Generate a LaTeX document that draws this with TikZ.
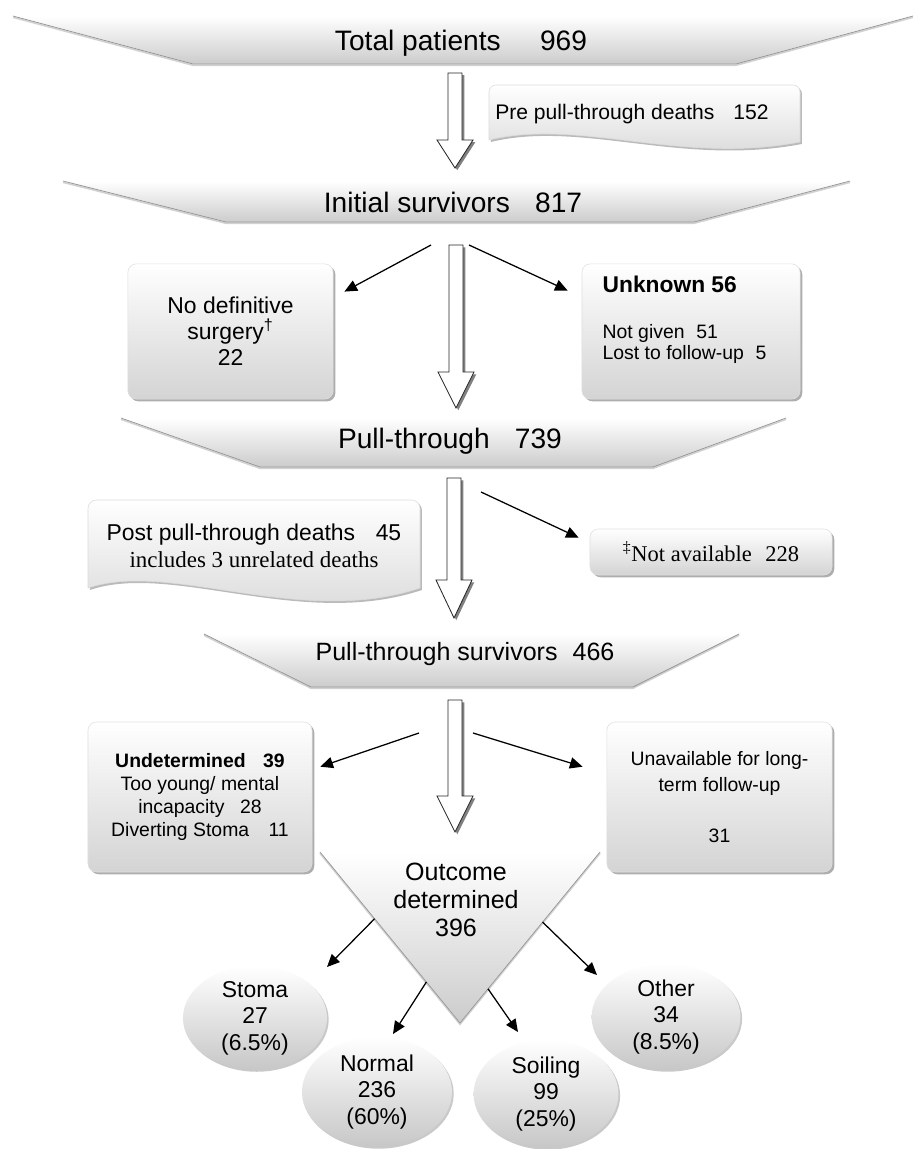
\documentclass[tikz,border=0pt]{standalone}
\usepackage{fontspec}
\setmainfont{Liberation Sans}
\newfontfamily\timesfont{Liberation Serif}
\usetikzlibrary{calc,arrows.meta,shadows,shapes.geometric}

\tikzset{
	banner/.style={top color=white,bottom color=black!20},
	bannertop/.style={draw=white,line width=1.2pt},
	bannerline/.style={draw=black!40,line width=0.5pt,preaction={draw=black!18,line width=1.2pt,transform canvas={yshift=-0.9pt}}},
	bannertext/.style={anchor=base,font=\fontsize{20}{24}\selectfont},
	infobox/.style={rounded corners=6pt,top color=white,bottom color=black!17,draw=black!12,line width=0.4pt,inner sep=0pt,align=center,drop shadow={shadow xshift=1.6pt,shadow yshift=-1.6pt,fill=black!45,opacity=0.7}},
	docbox/.style={top color=white,bottom color=black!16,draw=black!14,line width=0.4pt,drop shadow={shadow xshift=1.4pt,shadow yshift=-1.4pt,fill=black!45,opacity=0.6}},
	hollow/.style={fill=white,draw=black!85,line width=0.6pt,drop shadow={shadow xshift=1.6pt,shadow yshift=-1.6pt,fill=black!50,opacity=1}},
	thinarrow/.style={-{Triangle[length=9pt,width=8pt]},line width=0.9pt},
	bubble/.style={ellipse,inner sep=0pt,top color=white,bottom color=black!22,align=center,font=\fontsize{16.3}{18.8}\selectfont,drop shadow={shadow xshift=1.2pt,shadow yshift=-1.2pt,fill=black!35,opacity=0.6}}
}

% block arrow: top, tip, head length
\newcommand{\hollowarrow}[3]{%
	\draw[hollow] ($(#1)+(-7,0)$) -- ($(#1)+(7,0)$) -- ($(#2)+(7,-#3)$) -- ($(#2)+(18,-#3)$) -- (#2) -- ($(#2)+(-18,-#3)$) -- ($(#2)+(-7,-#3)$) -- cycle;}

\begin{document}
\begin{tikzpicture}[x=0.025cm,y=-0.025cm]
	\useasboundingbox (0,0) rectangle (914,1149);
	\fill[white] (0,0) rectangle (914,1149);

	%BANNERS
	\fill[banner] (13,16) -- (913,16) -- (736,64) -- (193,64) -- cycle;
	\draw[bannertop] (13,16) -- (913,16);
	\draw[bannerline] (13,16) -- (193,64) -- (736,64) -- (913,16);
	\fill[banner] (63,181) -- (850,181) -- (694,222) -- (226,222) -- cycle;
	\draw[bannertop] (63,181) -- (850,181);
	\draw[bannerline] (63,181) -- (226,222) -- (694,222) -- (850,181);
	\fill[banner] (121,418) -- (786,418) -- (653,467) -- (260,467) -- cycle;
	\draw[bannertop] (121,418) -- (786,418);
	\draw[bannerline] (121,418) -- (260,467) -- (653,467) -- (786,418);
	\fill[banner] (204,634) -- (739,634) -- (633,687) -- (311,687) -- cycle;
	\draw[bannertop] (204,634) -- (739,634);
	\draw[bannerline] (204,634) -- (311,687) -- (633,687) -- (739,634);
	%
	\node[bannertext] (total) at (461,51) {Total patients\hspace{1.4em}969};
	\node[bannertext] (initial) at (453,212) {Initial survivors\hspace{0.9em}817};
	\node[bannertext] (pull) at (450,448) {Pull-through\hspace{0.9em}739};
	\node[bannertext,font=\fontsize{17.8}{22}\selectfont] (ptsurv) at (465,660) {Pull-through survivors\hspace{0.6em}466};

	%DEATH BOXES
	\path[docbox] (489,140) [rounded corners=5pt] -- (489,85) -- (800,85) [sharp corners] -- (800,142) .. controls (680,165) and (580,118) .. (489,140) -- cycle;
	\node[font=\fontsize{15}{18}\selectfont] (predeaths) at (632,114) {Pre pull-through deaths\hspace{0.9em}152};
	\path[docbox] (88,588) [rounded corners=6pt] -- (88,500) -- (420,500) [sharp corners] -- (420,588) .. controls (300,628) and (170,560) .. (88,588) -- cycle;
	\node[align=center,font=\fontsize{16.3}{19.2}\selectfont] (postdeaths) at (254,546) {Post pull-through deaths\hspace{0.9em}45\\{\timesfont includes 3 unrelated deaths}};

	%SIDE BOXES
	\node[infobox,minimum width=5.13cm,minimum height=3.38cm,font=\fontsize{16.3}{18.5}\selectfont] (nodef) at (230.5,331.5) {No definitive\\surgery\textsuperscript{†}\\22};
	\node[infobox,minimum width=5.45cm,minimum height=3.38cm] (unknownbox) at (691,331.5) {};
	\node[anchor=base west,font=\fontsize{16.2}{19}\selectfont\bfseries] (unknownhead) at ($(unknownbox.north west)+(16,29)$) {Unknown 56};
	\node[anchor=base west,font=\fontsize{13.8}{15}\selectfont] (unknowngiven) at ($(unknownbox.north west)+(16,75)$) {Not given\hspace{0.6em}51};
	\node[anchor=base west,font=\fontsize{13.8}{15}\selectfont] (unknownlost) at ($(unknownbox.north west)+(16,96)$) {Lost to follow-up\hspace{0.6em}5};
	\node[infobox,minimum width=6.05cm,minimum height=1.15cm,font=\timesfont\fontsize{16}{19}\selectfont] (notav) at (711,552) {\textsuperscript{‡}Not available\hspace{0.6em}228};
	\node[infobox,minimum width=5.6cm,minimum height=3.75cm,font=\fontsize{13.8}{16.4}\selectfont] (undet) at (200,797) {{\bfseries Undetermined\hspace{0.9em}39}\\Too young/ mental\\incapacity\hspace{0.8em}28\\Diverting Stoma\hspace{1em}11};
	\node[infobox,minimum width=5.63cm,minimum height=3.75cm,font=\fontsize{13.8}{18.3}\selectfont] (unav) at (719.5,797) {Unavailable for long-\\term follow-up\\[17.8pt]31};

	%BLOCK ARROWS
	\coordinate (ha1top) at (455,73);	\coordinate (ha1tip) at (455,168);
	\coordinate (ha2top) at (456,245);	\coordinate (ha2tip) at (456,408);
	\coordinate (ha3top) at (454,478);	\coordinate (ha3tip) at (454,618);
	\coordinate (ha4top) at (455,700);	\coordinate (ha4tip) at (455,832);
	\hollowarrow{ha1top}{ha1tip}{28}
	\hollowarrow{ha2top}{ha2tip}{36}
	\hollowarrow{ha3top}{ha3tip}{38}
	\hollowarrow{ha4top}{ha4tip}{36}

	%OUTCOME TRIANGLE
	\coordinate (otl) at (320,852);
	\coordinate (otr) at (600,852);
	\coordinate (otip) at (460,1023);
	\fill[banner] (otl) -- (otr) -- (otip) -- cycle;
	\draw[bannertop] (otl) -- (otr);
	\draw[bannerline] (otl) -- (otip) -- (otr);
	\node[align=center,font=\fontsize{17.8}{19.9}\selectfont] (outcome) at (456,900) {Outcome\\determined\\396};
	\path (otl) -- (otip) coordinate[pos=0.39] (tstoma) coordinate[pos=0.76] (tnormal);
	\path (otr) -- (otip) coordinate[pos=0.80] (tsoil) coordinate[pos=0.41] (tother);

	%RESULTS
	\node[bubble,minimum width=3.6cm,minimum height=2.6cm] (stoma) at (255,1018) {Stoma\\27\\(6.5\%)};
	\node[bubble,minimum width=3.72cm,minimum height=2.65cm] (other) at (666,1017) {Other\\34\\(8.5\%)};
	\node[bubble,minimum width=3.75cm,minimum height=2.75cm] (normal) at (377,1092) {Normal\\236\\(60\%)};
	\node[bubble,minimum width=3.62cm,minimum height=2.7cm] (soiling) at (546,1094) {Soiling\\99\\(25\%)};

	%THIN ARROWS
	\coordinate (split2l) at (431,245);	\coordinate (split2r) at (469,245);
	\coordinate (split3r) at (481,492);
	\coordinate (split4l) at (419,733);	\coordinate (split4r) at (473,733);
	\coordinate (nodefin) at ($(nodef.north east)+(11,28)$);
	\coordinate (unknownin) at ($(unknownbox.north west)+(-14,27)$);
	\coordinate (notavin) at ($(notav.north west)+(-11,9)$);
	\coordinate (undetin) at ($(undet.north east)+(8,45)$);
	\coordinate (unavin) at ($(unav.north west)+(-24,45)$);
	\coordinate (stomain) at ($(stoma.center)+(72,-51)$);
	\coordinate (normalin) at ($(normal.center)+(16,-58)$);
	\coordinate (soilin) at ($(soiling.center)+(-28,-62)$);
	\coordinate (otherin) at ($(other.center)+(-69,-42)$);
	%
	\draw[thinarrow] (split2l) -- (nodefin);
	\draw[thinarrow] (split2r) -- (unknownin);
	\draw[thinarrow] (split3r) -- (notavin);
	\draw[thinarrow] (split4l) -- (undetin);
	\draw[thinarrow] (split4r) -- (unavin);
	\draw[thinarrow] (tstoma) -- (stomain);
	\draw[thinarrow] (tnormal) -- (normalin);
	\draw[thinarrow] (tsoil) -- (soilin);
	\draw[thinarrow] (tother) -- (otherin);
\end{tikzpicture}
\end{document}
